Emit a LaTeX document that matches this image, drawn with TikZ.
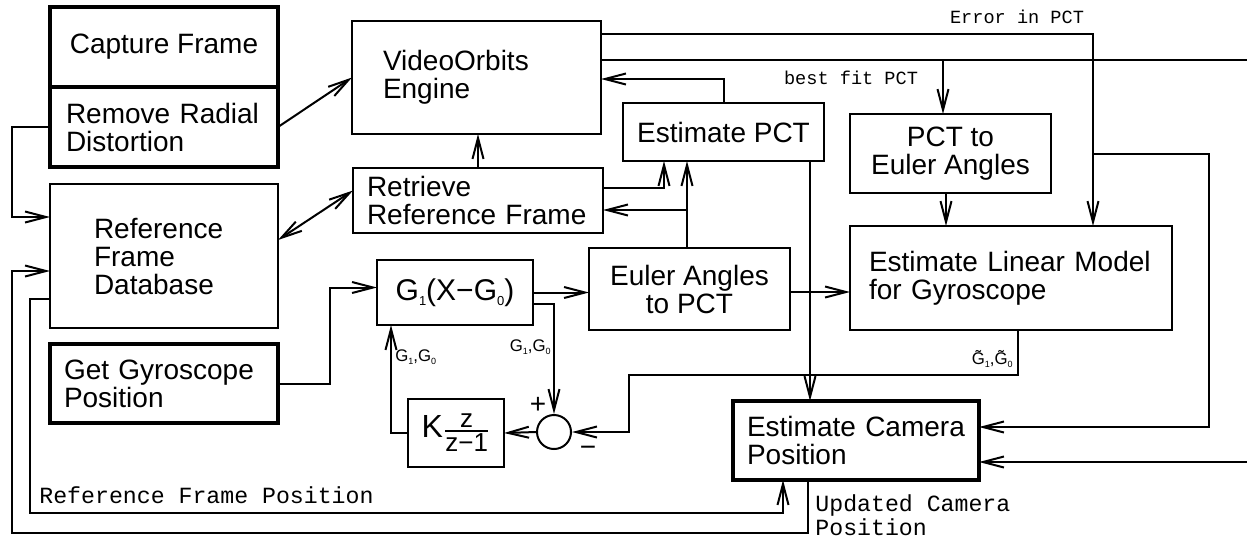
\documentclass[tikz,border=0pt]{standalone}
\usepackage{fontspec}
\setmainfont{Liberation Sans}
\setmonofont{Liberation Mono}
\usepackage{amsmath}
\usepackage{tikz}
\usetikzlibrary{positioning,arrows.meta,calc}
\newcommand\subbig[1]{\raisebox{-2.5pt}{\fontsize{6.5}{6.5}\selectfont #1}}
\newcommand\subsmall[1]{\raisebox{-1.5pt}{\fontsize{4.5}{4.5}\selectfont #1}}
\tikzset{
  node-box/.style={draw,line width=1pt,inner ysep=0pt,outer sep=0pt,
    font=\fontsize{14}{14}\selectfont},
  node-heavy/.style={line width=2pt},
  node-sum/.style={draw,line width=1pt,circle,minimum size=17pt,inner sep=0pt},
  arrow/.style={-{Straight Barb[length=10.5pt,width=5.5pt]},line width=1pt},
  arrow-both/.style={{Straight Barb[length=10.5pt,width=5.5pt]}-{Straight Barb[length=10.5pt,width=5.5pt]},line width=1pt},
  line-plain/.style={line width=1pt},
  lbl-mono/.style={font=\ttfamily\fontsize{11.6}{12}\selectfont,inner sep=0pt,align=left},
  lbl-mono-small/.style={font=\ttfamily\fontsize{9.3}{10}\selectfont,inner sep=0pt},
  lbl-sub/.style={font=\fontsize{8.4}{9}\selectfont,inner sep=0pt},
  lbl-sign/.style={font=\fontsize{14}{14}\selectfont,inner sep=0pt},
}
\begin{document}
\begin{tikzpicture}[x=0.5pt,y=-0.5pt]
  \useasboundingbox (0,0) rectangle (1247,538);
  % boxes
  \node[node-box,node-heavy,minimum width=114pt,minimum height=40pt] (cap) at (164,47) {Capture Frame};
  \node[node-box,node-heavy,below=0pt of cap,minimum width=114pt,minimum height=40pt,
    text width=98pt,inner xsep=8pt,align=left] (rad) {Remove Radial\\Distortion};
  \node[node-box,minimum width=124.5pt,minimum height=56.5pt,text width=93.5pt,inner xsep=15.5pt,
    align=left] (vid) at (476.5,77.5) {VideoOrbits\\Engine};
  \node[node-box,minimum width=125pt,minimum height=32.5pt,text width=111pt,inner xsep=7pt,
    align=left] (ret) at (478,200.5) {Retrieve\\Reference Frame};
  \node[node-box,minimum width=114pt,minimum height=72pt,text width=70pt,inner xsep=22pt,
    align=left] (db) at (164,256) {Reference\\Frame\\Database};
  \node[node-box,node-heavy,minimum width=114pt,minimum height=39.5pt,text width=100pt,inner xsep=7pt,
    align=left] (gyro) at (164,383.5) {Get Gyroscope\\Position};
  \node[node-box,minimum width=78pt,minimum height=32.5pt,font=\fontsize{15}{15}\selectfont]
    (g1) at (455,292.5) {G\subbig{1}(X−G\subbig{0})};
  \node[node-box,minimum width=100.5pt,minimum height=41pt,align=center] (euler) at (689.5,289) {Euler Angles\\to PCT};
  \node[node-box,minimum width=100.5pt,minimum height=29pt] (pctest) at (723.5,132) {Estimate PCT};
  \node[node-box,minimum width=100.5pt,minimum height=39.5pt,align=center] (pcteul) at (950.5,153.5) {PCT to\\Euler Angles};
  \node[node-box,minimum width=161pt,minimum height=52pt,text width=142pt,inner xsep=9.5pt,
    align=left] (lin) at (1011,278) {Estimate Linear Model\\for Gyroscope};
  \node[node-box,node-heavy,minimum width=123pt,minimum height=39.5pt,text width=109pt,inner xsep=7pt,
    align=left] (cam) at (856,440.5) {Estimate Camera\\Position};
  \node[node-box,minimum width=48pt,minimum height=34pt,inner xsep=0pt]
    (kz) at (456,433) {{\fontsize{16}{16}\selectfont K}{\fontsize{13}{13}\selectfont$\genfrac{}{}{0.9pt}{}{\hbox{z}}{\hbox{z−1}}$}};
  \node[node-sum] (sum) at (554,432) {};
  \node[lbl-sign] (plus) at (538,405) {+};
  \node[lbl-sign] (minus) at (588,451) {−};
  % junctions
  \coordinate (jEul) at (687,210);
  \coordinate (xCam) at (810,0);
  \coordinate (xLin) at (946,0);
  \coordinate (jErr) at (1093,154);
  \coordinate (jCam) at (1209,427);
  \coordinate (jFit) at (943,60);
  \coordinate (outFit) at (1247,60);
  \coordinate (inCam) at (1247,462);
  % frame path
  \draw[arrow] (rad.east) -- (vid.west);
  \draw[arrow-both] ($(db.east)+(0,-16)$) -- ($(ret.west)+(0,-10)$);
  \draw[arrow] (rad.west) -- ++(-38,0) |- ($(db.west)+(0,-39)$);
  \draw[arrow] ($(cam.south)+(-48,0)$) |- (12,533) |- ($(db.west)+(0,15)$);
  \draw[arrow] ($(db.west)+(0,43)$) -| (30,513) -| ($(cam.south)+(-73,0)$);
  \node[lbl-mono,anchor=west] (lblRef) at (39,495) {Reference Frame Position};
  \node[lbl-mono,anchor=north west] (lblUpd) at (815,494) {Updated Camera\\Position};
  % gyro loop
  \draw[arrow] (gyro.east) -- ++(52,0) |- ($(g1.west)+(0,-5)$);
  \draw[arrow] (g1.east) -- (g1.east -| euler.west);
  \draw[arrow] ($(g1.east)+(0,11.5)$) -| (sum.north);
  \node[lbl-sub,anchor=east] (lblOut) at (551,347) {G\subsmall{1},G\subsmall{0}};
  \draw[arrow] (sum.west) -- (kz.east);
  \draw[arrow] (kz.west) -| ($(g1.south west)+(14,0)$);
  \node[lbl-sub,anchor=west] (lblBack) at (395,357) {G\subsmall{1},G\subsmall{0}};
  \draw[arrow] ($(lin.south)+(7,0)$) |- (629,375) |- (sum.east);
  \node[lbl-sub,anchor=east] (lblEst) at (1013,359) {\~{G}\subsmall{1},\~{G}\subsmall{0}};
  % PCT path
  \draw[arrow] (ret.north) -- (ret.north |- vid.south);
  \draw[arrow] (pctest.north) |- ($(vid.east)+(0,1.5)$);
  \draw[arrow] ($(ret.east)+(0,-12.5)$) -| ($(pctest.south)+(-59.5,0)$);
  \draw[arrow] (euler.north -| jEul) -- (pctest.south -| jEul);
  \draw[arrow] (jEul) -- (jEul -| ret.east);
  \draw[arrow] (pctest.south -| xCam) -- (cam.north -| xCam);
  \draw[arrow] ($(euler.east)+(0,3)$) -- ($(euler.east -| lin.west)+(0,3)$);
  \draw[arrow] (pcteul.south -| xLin) -- (lin.north -| xLin);
  % outputs of the engine
  \draw[arrow] ($(vid.north east)+(0,13)$) -| (lin.north -| jErr);
  \draw[arrow] (jErr) -| (jCam) -- (jCam -| cam.east);
  \node[lbl-mono-small] (lblErr) at (1017,17) {Error in PCT};
  \draw[arrow] ($(vid.north east)+(0,39)$) -| (pcteul.north -| jFit);
  \draw[line-plain] (jFit) -- (outFit);
  \node[lbl-mono-small] (lblFit) at (851,78) {best fit PCT};
  \draw[arrow] (inCam) -- (inCam -| cam.east);
\end{tikzpicture}
\end{document}
